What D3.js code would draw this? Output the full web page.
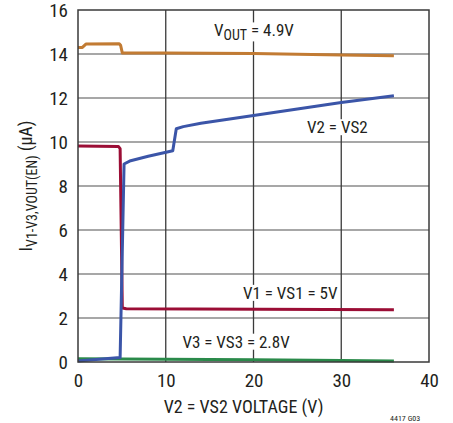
<!DOCTYPE html>
<html>
<head>
<meta charset="utf-8">
<script src="https://cdn.jsdelivr.net/npm/d3@7"></script>
<style>
  body { margin: 0; background: #fff; }
  svg text { font-family: "Liberation Sans Narrow", "Roboto Condensed", "Arial Narrow", "Liberation Sans", sans-serif; fill: #231f20; }
</style>
</head>
<body>
<svg id="chart" width="453" height="423"></svg>
<script>
const M = { top: 10, left: 78, width: 351, height: 352 };

const xTicks = [0, 10, 20, 30, 40];
const yTicks = [0, 2, 4, 6, 8, 10, 12, 14, 16];

// I(VOUT(EN))
const voutX = [0, 0.5, 0.9, 4.7, 4.85, 5.05, 10, 20, 30, 36];
const voutY = [14.3, 14.3, 14.45, 14.47, 14.4, 14.05, 14.05, 14.02, 13.96, 13.92];
// I(V2)
const v2X = [0, 4.8, 5.25, 6, 8, 10.8, 11.2, 12, 14, 20, 25, 30, 36];
const v2Y = [0.05, 0.2, 9.0, 9.15, 9.35, 9.6, 10.6, 10.7, 10.85, 11.2, 11.5, 11.8, 12.1];
// I(V1)
const v1X = [0, 4.6, 4.8, 5.05, 5.5, 36];
const v1Y = [9.82, 9.8, 9.7, 2.45, 2.42, 2.37];
// I(V3)
const v3X = [0, 10, 20, 30, 36];
const v3Y = [0.15, 0.13, 0.1, 0.07, 0.05];

const series = [
  { xs: voutX, ys: voutY, color: "#c27b33" },
  { xs: v1X,   ys: v1Y,   color: "#9b0d35" },
  { xs: v3X,   ys: v3Y,   color: "#2a8a4a" },
  { xs: v2X,   ys: v2Y,   color: "#3b55a8" }
];

const svg = d3.select("#chart");
const g = svg.append("g").attr("transform", `translate(${M.left},${M.top})`);

const x = d3.scaleLinear().domain([0, 40]).range([0, M.width]);
const y = d3.scaleLinear().domain([0, 16]).range([M.height, 0]);

// grid
g.selectAll(".hgrid").data(yTicks.slice(1, -1)).join("line")
  .attr("x1", 0).attr("x2", M.width)
  .attr("y1", d => y(d)).attr("y2", d => y(d))
  .attr("stroke", "#8a8a8a").attr("stroke-width", 1.5);
g.selectAll(".vgrid").data(xTicks.slice(1, -1)).join("line")
  .attr("y1", 0).attr("y2", M.height)
  .attr("x1", d => x(d)).attr("x2", d => x(d))
  .attr("stroke", "#3a3a3a").attr("stroke-width", 1.3);

// in-plot labels with white boxes
const labels = [
  { x: 15.5, y: 14.8, parts: [["V", false], ["OUT", true], [" = 4.9V", false]] },
  { x: 26.1, y: 10.4, parts: [["V2 = VS2", false]] },
  { x: 18.8, y: 2.87, parts: [["V1 = VS1 = 5V", false]] },
  { x: 11.9, y: 0.65, parts: [["V3 = VS3 = 2.8V", false]] }
];
labels.forEach(l => {
  const t = g.append("text").attr("x", x(l.x)).attr("y", y(l.y)).attr("font-size", 17);
  l.parts.forEach(([s, sub]) => {
    const ts = t.append("tspan").text(s);
    if (sub) ts.attr("dy", 4).attr("font-size", 14);
    else if (t.selectAll("tspan").size() > 1) ts.attr("dy", -4);
  });
  const b = t.node().getBBox();
  g.insert("rect", "text").attr("x", b.x - 2).attr("y", b.y + 2).attr("width", b.width + 4).attr("height", b.height - 4).attr("fill", "#fff");
});

// lines
const line = d3.line().x(d => x(d[0])).y(d => y(d[1]));
series.forEach(s => {
  g.append("path")
    .datum(s.xs.map((v, i) => [v, s.ys[i]]))
    .attr("d", line)
    .attr("fill", "none")
    .attr("stroke", s.color)
    .attr("stroke-width", 3)
    .attr("stroke-linejoin", "round");
});

// frame
g.append("rect").attr("width", M.width).attr("height", M.height)
  .attr("fill", "none").attr("stroke", "#3a3a3a").attr("stroke-width", 1.5);

// axes
const xAxis = g.append("g").attr("transform", `translate(0,${M.height})`)
  .call(d3.axisBottom(x).tickValues(xTicks).tickSize(0).tickPadding(12));
const yAxis = g.append("g")
  .call(d3.axisLeft(y).tickValues(yTicks).tickSize(0).tickPadding(10));
[xAxis, yAxis].forEach(a => {
  a.select(".domain").remove();
  a.selectAll("text").attr("font-size", 19).attr("font-family", null);
});

// axis titles
svg.append("text")
  .attr("x", M.left + x(20) - 10).attr("y", 413)
  .attr("text-anchor", "middle").attr("font-size", 18)
  .text("V2 = VS2 VOLTAGE (V)");

const yt = svg.append("text")
  .attr("transform", "translate(32,186) rotate(-90)")
  .attr("text-anchor", "middle").attr("font-size", 18);
yt.append("tspan").text("I");
yt.append("tspan").attr("dy", 5).attr("font-size", 14).text("V1-V3,VOUT(EN)");
yt.append("tspan").attr("dy", -5).text(" (µA)");

svg.append("text")
  .attr("x", 390).attr("y", 421)
  .attr("font-size", 8).attr("fill", "#555")
  .text("4417 G03");
</script>
</body>
</html>
